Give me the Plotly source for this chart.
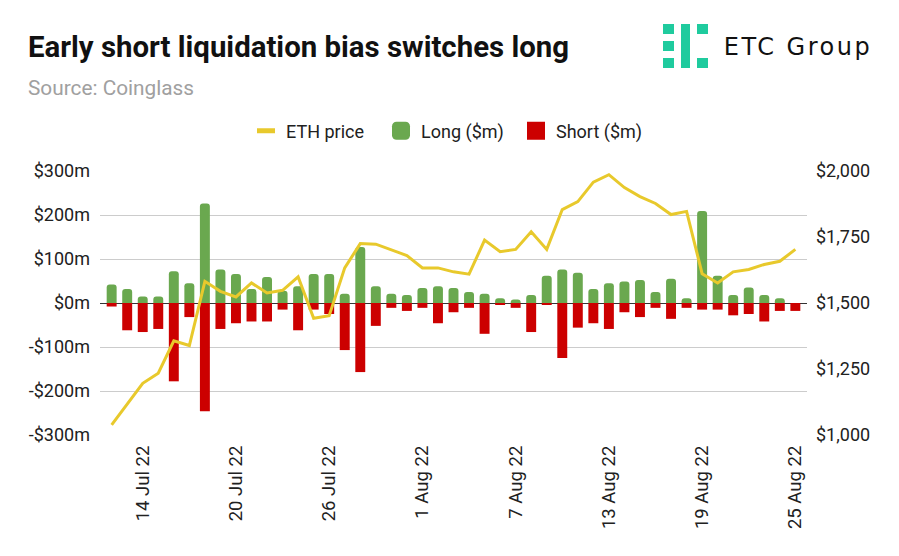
import plotly.graph_objects as go

dates = ["12 Jul 22","13 Jul 22","14 Jul 22","15 Jul 22","16 Jul 22","17 Jul 22","18 Jul 22","19 Jul 22","20 Jul 22",
         "21 Jul 22","22 Jul 22","23 Jul 22","24 Jul 22","25 Jul 22","26 Jul 22","27 Jul 22","28 Jul 22","29 Jul 22",
         "30 Jul 22","31 Jul 22","1 Aug 22","2 Aug 22","3 Aug 22","4 Aug 22","5 Aug 22","6 Aug 22","7 Aug 22",
         "8 Aug 22","9 Aug 22","10 Aug 22","11 Aug 22","12 Aug 22","13 Aug 22","14 Aug 22","15 Aug 22","16 Aug 22",
         "17 Aug 22","18 Aug 22","19 Aug 22","20 Aug 22","21 Aug 22","22 Aug 22","23 Aug 22","24 Aug 22","25 Aug 22"]
long_m = [42,32,15,15,72,45,226,76,66,32,59,28,38,66,66,21,127,38,21,18,34,38,34,25,21,11,8,18,62,76,69,32,45,49,52,25,55,11,209,62,18,35,18,11,0]
short_m = [-8,-62,-66,-59,-178,-32,-246,-59,-46,-42,-42,-15,-62,-15,-25,-107,-157,-52,-11,-18,-11,-46,-21,-11,-70,-4,-11,-66,-4,-125,-56,-46,-59,-21,-32,-11,-36,-11,-15,-15,-28,-25,-42,-18,-18]
eth_price = [1038,1118,1196,1234,1357,1339,1582,1544,1523,1576,1538,1548,1599,1442,1452,1633,1725,1723,1700,1680,1633,1633,1618,1609,1738,1694,1703,1770,1703,1854,1884,1958,1986,1937,1903,1877,1835,1847,1611,1576,1618,1627,1646,1658,1703]
x_ticks = ["14 Jul 22","20 Jul 22","26 Jul 22","1 Aug 22","7 Aug 22","13 Aug 22","19 Aug 22","25 Aug 22"]
left_ticks = [300,200,100,0,-100,-200,-300]
left_labels = ["$300m","$200m","$100m","$0m","-$100m","-$200m","-$300m"]
right_ticks = [2000,1750,1500,1250,1000]
right_labels = ["$2,000","$1,750","$1,500","$1,250","$1,000"]

FONT = "Roboto"
INK = "#212121"

fig = go.Figure()
fig.add_trace(go.Scatter(x=dates, y=eth_price, name="ETH price", yaxis="y2", mode="lines",
                         line=dict(color="#e8c92c", width=3)))
fig.add_trace(go.Bar(x=dates, y=long_m, name="Long ($m)", marker=dict(color="#6aa84f", cornerradius=3, line_width=0), width=0.64))
fig.add_trace(go.Bar(x=dates, y=short_m, name="Short ($m)", marker=dict(color="#cc0000", line_width=0), width=0.64))

fig.update_layout(
    width=899, height=556,
    margin=dict(l=100, r=92, t=171, b=121, autoexpand=False),
    paper_bgcolor="white", plot_bgcolor="white",
    barmode="overlay", bargap=0.36,
    font=dict(family=FONT, size=18, color=INK),
    showlegend=True,
    legend=dict(orientation="h", x=(246-100)/707, xanchor="left", y=1+(171-131)/264, yanchor="middle",
                font=dict(size=18, color=INK), itemwidth=30, entrywidth=90, entrywidthmode="pixels",
                traceorder="normal", bgcolor="rgba(0,0,0,0)"),
    xaxis=dict(type="category", categoryorder="array", categoryarray=dates, range=[-0.75, 44.75],
               tickmode="array", tickvals=x_ticks, ticktext=x_ticks, tickangle=-90, ticklabelstandoff=6,
               showgrid=False, showline=False, ticks="", zeroline=False,
               tickfont=dict(size=18.5, color=INK)),
    yaxis=dict(range=[-300, 300], tickmode="array", tickvals=left_ticks, ticktext=left_labels,
               gridcolor="#cccccc", gridwidth=1.3, zeroline=True, zerolinecolor="#333333", zerolinewidth=1.3,
               showline=False, ticks="", ticklabelstandoff=9, tickfont=dict(size=18, color=INK)),
    yaxis2=dict(range=[1000, 2000], overlaying="y", side="right", tickmode="array",
                tickvals=right_ticks, ticktext=right_labels, showgrid=False, zeroline=False,
                showline=False, ticks="", ticklabelstandoff=8, tickfont=dict(size=18, color=INK)),
    annotations=[
        dict(text="<b>Early short liquidation bias switches long</b>", xref="paper", yref="paper",
             x=(26-100)/707, y=1+(171-47)/264, xanchor="left", yanchor="middle", showarrow=False,
             font=dict(size=29.4, color="#111111", family=FONT)),
        dict(text="Source: Coinglass", xref="paper", yref="paper", x=(26-100)/707, y=1+(171-88)/264,
             xanchor="left", yanchor="middle", showarrow=False, font=dict(size=20.8, color="#a0a0a0", family=FONT)),
        dict(text="ETC Group", xref="paper", yref="paper", x=(733-100)/707, y=1+(171-47)/264,
             xanchor="left", yanchor="middle", showarrow=False,
             font=dict(size=24, color="#111111", family="DejaVu Sans")),
    ],
)

# ETC Group logo glyph, in pixel-based paper coordinates
def logo_rect(x0, x1, y0, y1):
    fig.add_shape(type="rect", xref="paper", yref="paper", layer="above", line_width=0,
                  fillcolor="#1fcb9e",
                  x0=(x0-100)/707, x1=(x1-100)/707, y0=(435-y1)/264, y1=(435-y0)/264)

for top, bottom in [(24, 34), (41, 51), (58, 68)]:
    logo_rect(663, 674, top, bottom)
logo_rect(681, 690, 24, 68)
for top, bottom in [(24, 34), (58, 68)]:
    logo_rect(697, 708, top, bottom)

post_js = """
document.body.style.margin = '0';
document.querySelectorAll('.legendpoints path').forEach(function (p) {
    p.setAttribute('transform', (p.getAttribute('transform') || '') + ' scale(1.5)');
    p.style.transform = '';
});
document.querySelectorAll('.legendlines path').forEach(function (p) {
    p.setAttribute('d', 'M11,0h18'); p.style.strokeWidth = '5px';
});
document.querySelectorAll('.annotation-text').forEach(function (t) {
    if (t.textContent === 'ETC Group') { t.style.letterSpacing = '2.5px'; }
});
"""
fig.write_html("out.html", post_script=post_js, config={"displayModeBar": False})
